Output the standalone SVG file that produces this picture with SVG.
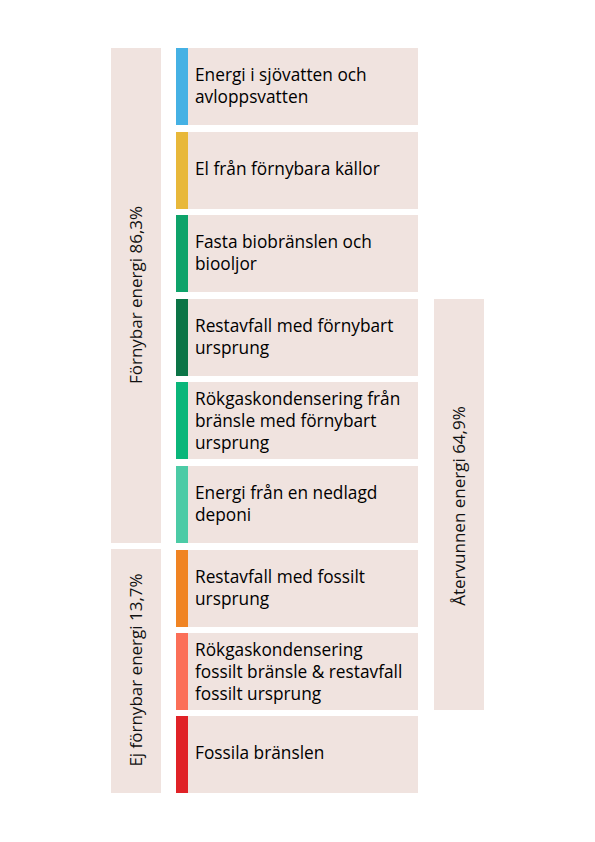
<svg xmlns="http://www.w3.org/2000/svg" width="595" height="842" viewBox="0 0 595 842">
<style>
.bg{fill:#F0E3DF}
.t{font-family:"Open Sans","Noto Sans",sans-serif;font-size:17.3px;font-weight:500;fill:#000}
.v{font-family:"Open Sans","Noto Sans",sans-serif;font-size:17px;fill:#111;text-anchor:middle}
</style>
<rect width="595" height="842" fill="#fff"/>
<g id="grp-fornybar">
<rect class="bg" x="111" y="48" width="50" height="495"/>
<text class="v" transform="translate(142,295) rotate(-90)">Förnybar energi 86,3%</text>
</g>
<g id="grp-ej-fornybar">
<rect class="bg" x="111" y="549" width="50" height="244"/>
<text class="v" transform="translate(142,670) rotate(-90)">Ej förnybar energi 13,7%</text>
</g>
<g id="grp-atervunnen">
<rect class="bg" x="434" y="299" width="50" height="411"/>
<text class="v" transform="translate(465,506) rotate(-90)">Återvunnen energi 64,9%</text>
</g>
<g id="n1"><rect class="bg" x="176" y="48" width="242" height="77"/><rect x="176" y="48" width="12" height="77" fill="#45B1E4"/><text class="t" x="195" y="81">Energi i sjövatten och</text><text class="t" x="195" y="103">avloppsvatten</text></g>
<g id="n2"><rect class="bg" x="176" y="132" width="242" height="77"/><rect x="176" y="132" width="12" height="77" fill="#E8B83A"/><text class="t" x="195" y="175">El från förnybara källor</text></g>
<g id="n3"><rect class="bg" x="176" y="215" width="242" height="77"/><rect x="176" y="215" width="12" height="77" fill="#0EA36A"/><text class="t" x="195" y="248">Fasta biobränslen och</text><text class="t" x="195" y="270">biooljor</text></g>
<g id="n4"><rect class="bg" x="176" y="299" width="242" height="77"/><rect x="176" y="299" width="12" height="77" fill="#0B7446"/><text class="t" x="195" y="332">Restavfall med förnybart</text><text class="t" x="195" y="354">ursprung</text></g>
<g id="n5"><rect class="bg" x="176" y="382" width="242" height="77"/><rect x="176" y="382" width="12" height="77" fill="#0AB67A"/><text class="t" x="195" y="405">Rökgaskondensering från</text><text class="t" x="195" y="427">bränsle med förnybart</text><text class="t" x="195" y="449">ursprung</text></g>
<g id="n6"><rect class="bg" x="176" y="466" width="242" height="77"/><rect x="176" y="466" width="12" height="77" fill="#4CCBA6"/><text class="t" x="195" y="499">Energi från en nedlagd</text><text class="t" x="195" y="521">deponi</text></g>
<g id="n7"><rect class="bg" x="176" y="550" width="242" height="77"/><rect x="176" y="550" width="12" height="77" fill="#F08423"/><text class="t" x="195" y="583">Restavfall med fossilt</text><text class="t" x="195" y="605">ursprung</text></g>
<g id="n8"><rect class="bg" x="176" y="633" width="242" height="77"/><rect x="176" y="633" width="12" height="77" fill="#FB6F58"/><text class="t" x="195" y="656">Rökgaskondensering</text><text class="t" x="195" y="678">fossilt bränsle &amp; restavfall</text><text class="t" x="195" y="700">fossilt ursprung</text></g>
<g id="n9"><rect class="bg" x="176" y="716" width="242" height="77"/><rect x="176" y="716" width="12" height="77" fill="#E02227"/><text class="t" x="195" y="759">Fossila bränslen</text></g>
<g id="connectors"></g>
</svg>
